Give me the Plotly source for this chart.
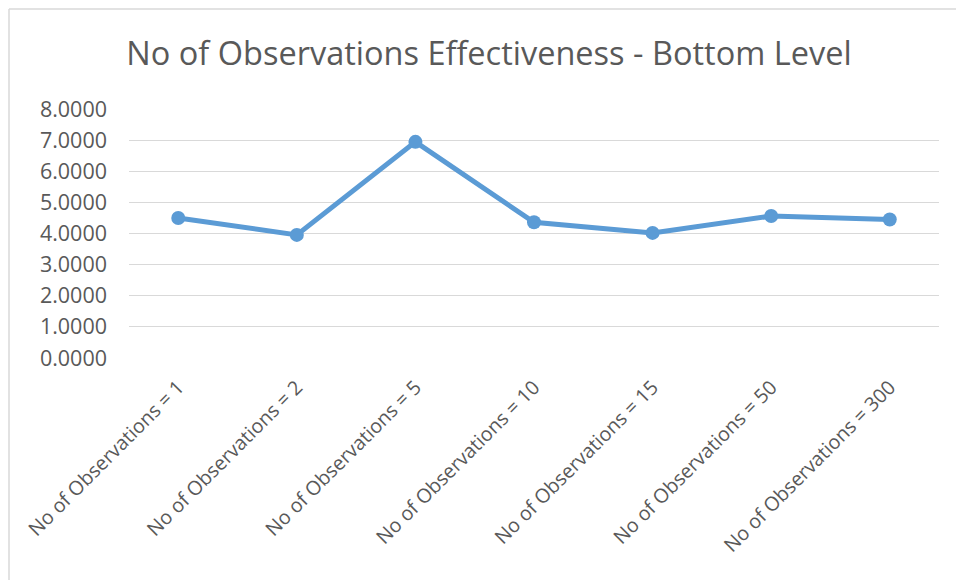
import plotly.graph_objects as go

categories = [
    "No of Observations = 1",
    "No of Observations = 2",
    "No of Observations = 5",
    "No of Observations = 10",
    "No of Observations = 15",
    "No of Observations = 50",
    "No of Observations = 300",
]
values = [4.50, 3.955, 6.945, 4.36, 4.02, 4.56, 4.45]
y_ticks = [0, 1, 2, 3, 4, 5, 6, 7, 8]
title_text = "No of Observations Effectiveness - Bottom Level"

W, H = 956, 580
L, R, T, B = 129, 17, 109, 222
pw, ph = W - L - R, H - T - B

def px_x(x):
    return (x - L) / pw

def px_y(y):
    return (H - B - y) / ph

FONT = "Open Sans"
GRAY = "#595959"
LINE = "#5B9BD5"

fig = go.Figure()
fig.add_trace(go.Scatter(
    x=categories, y=values, mode="lines+markers",
    line=dict(color=LINE, width=5),
    marker=dict(color=LINE, size=14),
    showlegend=False,
))

fig.update_layout(
    width=W, height=H,
    margin=dict(l=L, r=R, t=T, b=B),
    paper_bgcolor="white", plot_bgcolor="white",
    title=dict(text=title_text, x=489 / W, xanchor="center", y=1 - 54 / H, yanchor="middle",
               font=dict(family=FONT, size=32.5, color=GRAY)),
    xaxis=dict(
        type="category", tickangle=-45, showgrid=False, zeroline=False,
        showline=False, ticks="", ticklabelstandoff=13,
        tickfont=dict(family=FONT, size=19.7, color=GRAY),
    ),
    yaxis=dict(
        range=[0, 8], tickvals=y_ticks, tickformat=".4f",
        showgrid=True, gridcolor="#D9D9D9", gridwidth=1.3, zeroline=False,
        showline=False, ticks="", ticklabelstandoff=21,
        tickfont=dict(family=FONT, size=21.5, color=GRAY),
    ),
    shapes=[
        dict(type="line", xref="paper", yref="paper", x0=px_x(9), x1=px_x(W + 5),
             y0=px_y(9), y1=px_y(9), line=dict(color="#D9D9D9", width=1.5)),
        dict(type="line", xref="paper", yref="paper", x0=px_x(9), x1=px_x(9),
             y0=px_y(9), y1=px_y(H + 5), line=dict(color="#D9D9D9", width=1.5)),
    ],
)

fig.write_html("out.html")
